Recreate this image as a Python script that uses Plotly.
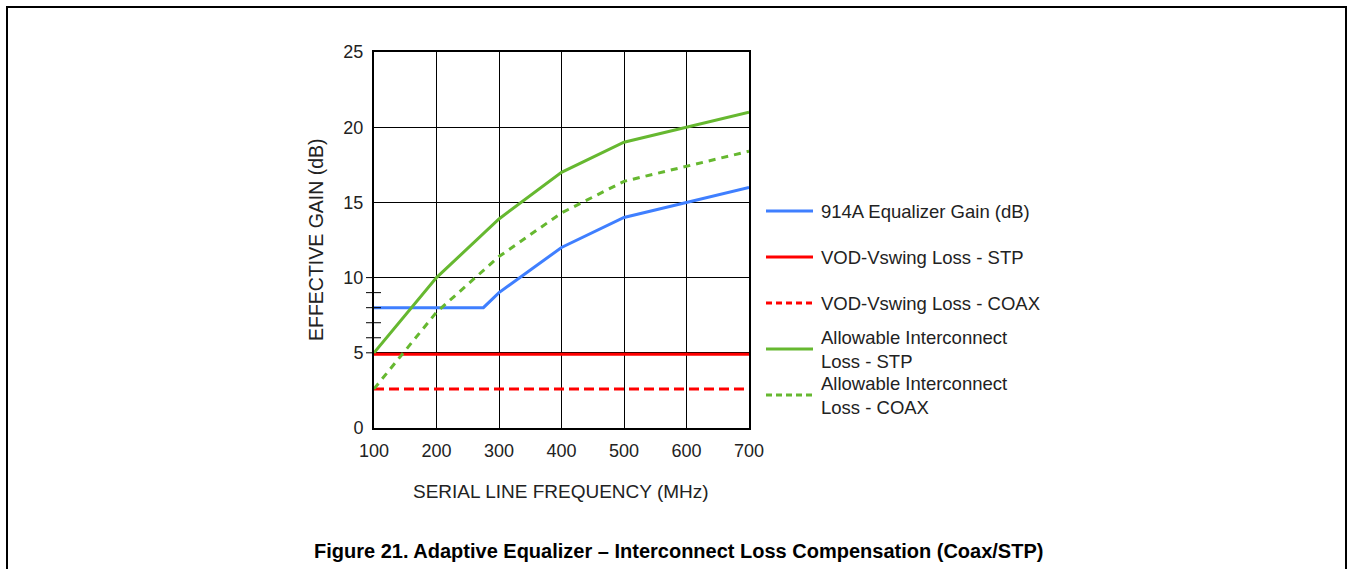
import plotly.graph_objects as go

freq = [100, 200, 300, 400, 500, 600, 700]
eq_freq = [100, 275, 300, 400, 500, 600, 700]
eq_gain = [8, 8, 9, 12, 14, 15, 16]
vod_stp = [4.9] * 7
vod_coax = [2.6] * 7
allow_stp = [5, 10, 13.9, 17, 19, 20, 21]
allow_coax = [2.6, 7.7, 11.4, 14.3, 16.4, 17.4, 18.4]

x_ticks = [100, 200, 300, 400, 500, 600, 700]
y_ticks = [0, 5, 10, 15, 20, 25]
minor_y = [6, 7, 8, 9]
short_major_y = [5, 10]

names = ["914A Equalizer Gain (dB)", "VOD-Vswing Loss - STP", "VOD-Vswing Loss - COAX",
         "Allowable Interconnect<br>Loss - STP", "Allowable Interconnect<br>Loss - COAX"]

BLUE = "#3f7fff"
RED = "#ff0000"
GREEN = "#66b830"
FONT = "Liberation Sans, Arial, sans-serif"
TXT = "#222"

W, H = 1353, 569
L, R, T, B = 374, 749, 52, 428

fig = go.Figure()
fig.add_trace(go.Scatter(x=eq_freq, y=eq_gain, mode="lines", line=dict(color=BLUE, width=3), name=names[0]))
fig.add_trace(go.Scatter(x=freq, y=vod_stp, mode="lines", line=dict(color=RED, width=3), name=names[1]))
fig.add_trace(go.Scatter(x=freq, y=vod_coax, mode="lines", line=dict(color=RED, width=3, dash="10px,5px"), name=names[2]))
fig.add_trace(go.Scatter(x=freq, y=allow_stp, mode="lines", line=dict(color=GREEN, width=3), name=names[3]))
fig.add_trace(go.Scatter(x=freq, y=allow_coax, mode="lines", line=dict(color=GREEN, width=3, dash="7px,6px"), name=names[4]))

pw, ph = R - L, B - T
def px(x):
    return (x - L) / pw
def py(y):
    return (B - y) / ph

shapes = []
# outer figure frame
shapes.append(dict(type="rect", xref="paper", yref="paper", x0=px(7), x1=px(1346), y0=py(580), y1=py(7),
                   line=dict(color="black", width=2), layer="above"))
for v in minor_y:
    shapes.append(dict(type="line", xref="paper", yref="y", x0=px(366), x1=px(381), y0=v, y1=v,
                       line=dict(color="black", width=1)))
for v in short_major_y:
    shapes.append(dict(type="line", xref="paper", yref="y", x0=px(366), x1=px(374), y0=v, y1=v,
                       line=dict(color="black", width=1)))

# manual legend
leg_y = [211, 257, 303, 349, 395]
leg_col = [BLUE, RED, RED, GREEN, GREEN]
leg_dash = ["solid", "solid", "6px,4px", "solid", "6px,4px"]
annotations = []
for i in range(5):
    shapes.append(dict(type="line", xref="paper", yref="paper", x0=px(766), x1=px(813),
                       y0=py(leg_y[i]), y1=py(leg_y[i]),
                       line=dict(color=leg_col[i], width=3, dash=leg_dash[i])))
    annotations.append(dict(xref="paper", yref="paper", x=px(819), y=py(leg_y[i]), text=names[i],
                            showarrow=False, xanchor="left", yanchor="middle", align="left",
                            font=dict(family=FONT, size=18.5, color=TXT)))

annotations.append(dict(xref="paper", yref="paper", x=px(316), y=py(240), text="EFFECTIVE GAIN (dB)",
                        textangle=-90, showarrow=False, xanchor="center", yanchor="middle",
                        font=dict(family=FONT, size=19.5, color=TXT)))
annotations.append(dict(xref="paper", yref="paper", x=px(561), y=py(491), text="SERIAL LINE FREQUENCY (MHz)",
                        showarrow=False, xanchor="center", yanchor="middle",
                        font=dict(family=FONT, size=19, color=TXT)))
annotations.append(dict(xref="paper", yref="paper", x=px(678), y=py(551),
                        text="<b>Figure 21. Adaptive Equalizer \u2013 Interconnect Loss Compensation (Coax/STP)</b>",
                        showarrow=False, xanchor="center", yanchor="middle",
                        font=dict(family=FONT, size=20, color="black")))

fig.update_layout(
    width=W, height=H,
    margin=dict(l=L, r=W - R, t=T, b=H - B, pad=0),
    paper_bgcolor="white", plot_bgcolor="white",
    showlegend=False,
    shapes=shapes, annotations=annotations,
    font=dict(family=FONT, size=18, color=TXT),
    xaxis=dict(range=[100, 700], tickvals=x_ticks, showgrid=True, gridcolor="black", gridwidth=1,
               showline=True, linecolor="black", linewidth=2, mirror=True, ticks="", zeroline=False,
               ticklabelstandoff=5, tickfont=dict(family=FONT, size=18, color=TXT)),
    yaxis=dict(range=[0, 25], tickvals=y_ticks, showgrid=True, gridcolor="black", gridwidth=1,
               showline=True, linecolor="black", linewidth=2, mirror=True, ticks="", zeroline=False,
               ticklabelstandoff=5, tickfont=dict(family=FONT, size=18, color=TXT)),
)

fig.write_html("out.html", config={"displayModeBar": False},
               post_script="document.body.style.margin='0';")
